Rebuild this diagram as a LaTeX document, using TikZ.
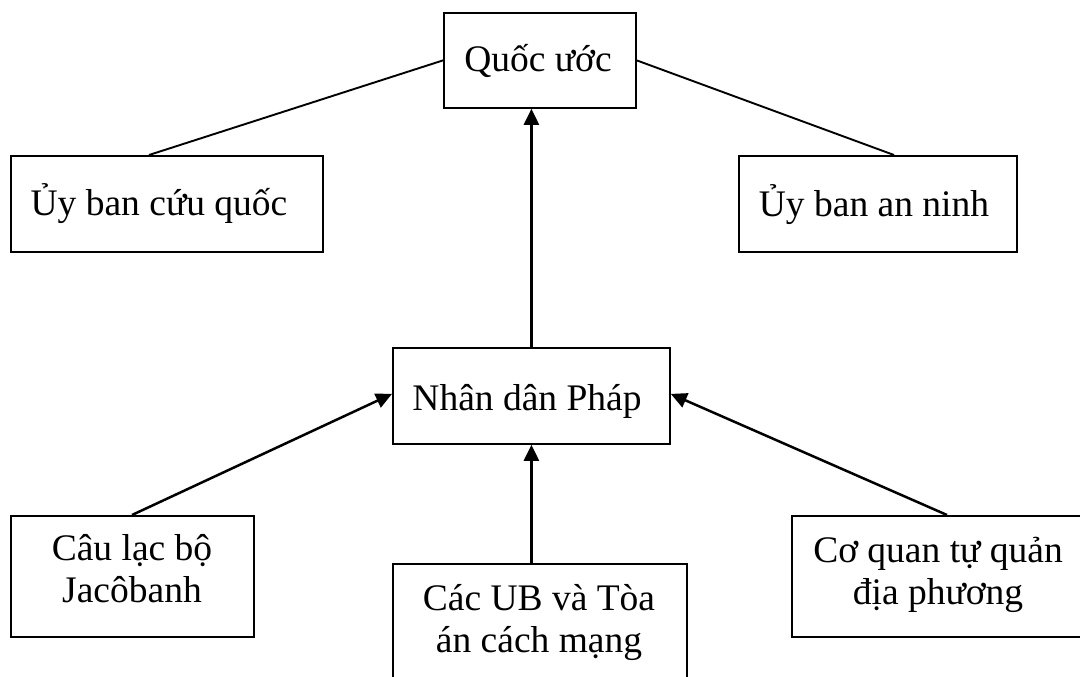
\documentclass[tikz,border=0pt]{standalone}
\usepackage{fontspec}
\setmainfont{Liberation Serif}
\usetikzlibrary{arrows.meta}
\begin{document}
\begin{tikzpicture}[x=1pt,y=-1pt,
  box/.style={draw=black,line width=1.8pt,rectangle,inner sep=0pt,anchor=north west},
  txt/.style={inner sep=0pt,anchor=base,font=\fontsize{37.5}{42}\selectfont},
  link/.style={line width=1.9pt},
  arr/.style={line width=2.5pt,-{Triangle[length=16pt,width=15pt]}}]
\clip (0,0) rectangle (1080,677);
\fill[white] (0,0) rectangle (1080,677);
% boxes
\node[box,minimum width=192pt,minimum height=95pt] (qu) at (443,12) {};
\node[box,minimum width=312pt,minimum height=96pt] (ubcq) at (10,155) {};
\node[box,minimum width=278pt,minimum height=96pt] (uban) at (738,155) {};
\node[box,minimum width=277pt,minimum height=96pt] (ndp) at (392,347) {};
\node[box,minimum width=243pt,minimum height=121pt] (clb) at (10,515) {};
\node[box,minimum width=294pt,minimum height=160pt] (cac) at (392,563) {};
\node[box,minimum width=300pt,minimum height=121pt] (cq) at (791,515) {};
% texts
\node[txt] (tqu) at (538,72) {Quốc ước};
\node[txt] (tubcq) at (159,215) {Ủy ban cứu quốc};
\node[txt] (tuban) at (874,216) {Ủy ban an ninh};
\node[txt] (tndp) at (527,410) {Nhân dân Pháp};
\node[txt] (tclb1) at (132,560) {Câu lạc bộ};
\node[txt] (tclb2) at (132,602) {Jacôbanh};
\node[txt] (tcac1) at (539,610) {Các UB và Tòa};
\node[txt] (tcac2) at (539,652) {án cách mạng};
\node[txt] (tcq1) at (938,562) {Cơ quan tự quản};
\node[txt] (tcq2) at (938,604) {địa phương};
% connectors
\draw[link] (qu.west) -- ([xshift=139pt]ubcq.north west);
\draw[link] (qu.east) -- ([xshift=156pt]uban.north west);
\draw[arr] (ndp.north) -- (ndp.north |- qu.south);
\draw[arr] (ndp.south |- cac.north) -- (ndp.south);
\draw[arr] ([xshift=122pt]clb.north west) -- ([yshift=2pt]ndp.west);
\draw[arr] ([xshift=156pt]cq.north west) -- ([yshift=2pt]ndp.east);
\end{tikzpicture}
\end{document}
